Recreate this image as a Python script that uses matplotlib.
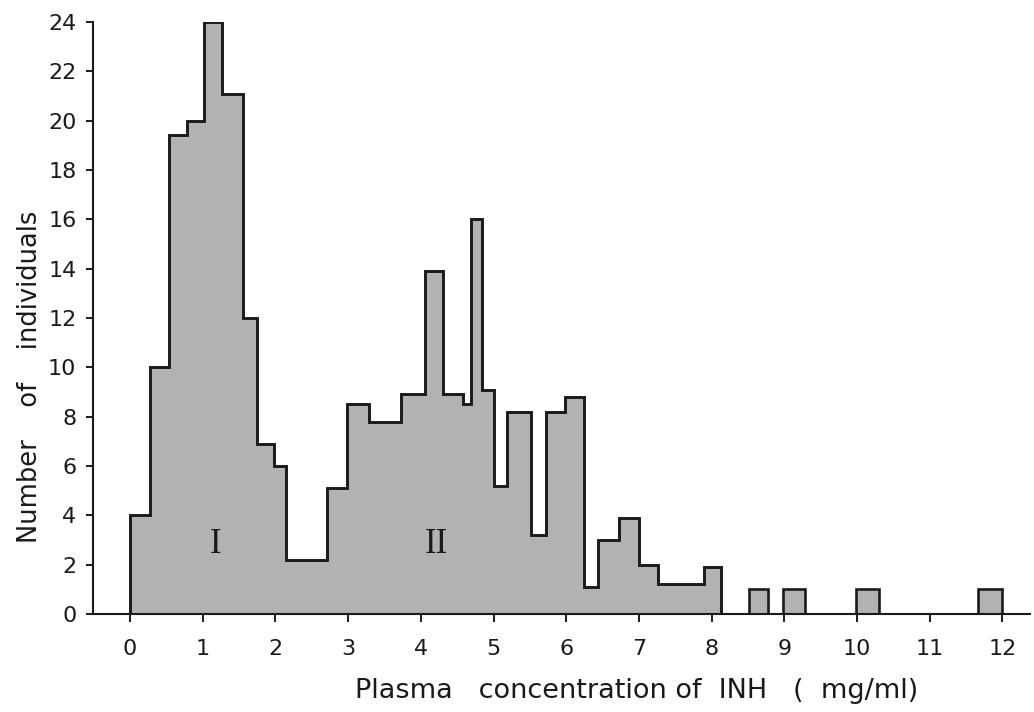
import matplotlib.pyplot as plt

# bin edges (mg/ml) and number of individuals
edges = [0, 0.28, 0.54, 0.79, 1.02, 1.27, 1.56, 1.75, 1.98, 2.15, 2.71,
         2.98, 3.29, 3.73, 4.06, 4.30, 4.58, 4.69, 4.84, 5.0, 5.18, 5.51,
         5.72, 5.99, 6.24, 6.44, 6.73, 7.0, 7.26, 7.9, 8.13]
counts = [4, 10, 19.4, 20, 24, 21.1, 12, 6.9, 6, 2.2,
          5.1, 8.5, 7.8, 8.9, 13.9, 8.9, 8.5, 16, 9.1, 5.2,
          8.2, 3.2, 8.2, 8.8, 1.1, 3.0, 3.9, 2.0, 1.2, 1.9]

# isolated bars in the tail
tail_left = [8.51, 8.98, 9.99, 11.66]
tail_right = [8.78, 9.28, 10.30, 11.99]
tail_counts = [1, 1, 1, 1]

x_ticks = list(range(0, 13))
y_ticks = list(range(0, 25, 2))

fill = "#b2b2b2"
ink = "#1a1a1a"

fig = plt.figure(figsize=(10.34, 7.12), dpi=100)
ax = fig.add_axes([93 / 1034, 1 - 614 / 712, (1030 - 93) / 1034, (614 - 22) / 712])

ax.stairs(counts, edges, fill=True, facecolor=fill, edgecolor="none")
ax.stairs(counts, edges, baseline=0, color=ink, lw=2.1)
widths = [r - l for l, r in zip(tail_left, tail_right)]
ax.bar(tail_left, tail_counts, width=widths, align="edge",
       color=fill, edgecolor=ink, lw=1.9)

ax.text(1.17, 2.8, "I", fontsize=25, family="Liberation Serif",
        ha="center", va="center", color=ink)
ax.text(4.21, 2.8, "II", fontsize=25, family="Liberation Serif",
        ha="center", va="center", color=ink)

ax.set_xlim(-0.51, 12.38)
ax.set_ylim(0, 24)
ax.set_xticks(x_ticks)
ax.set_yticks(y_ticks)
ax.spines["top"].set_visible(False)
ax.spines["right"].set_visible(False)
for s in ["left", "bottom"]:
    ax.spines[s].set_linewidth(1.5)
    ax.spines[s].set_color(ink)
ax.tick_params(axis="x", direction="out", length=6, width=1.4, pad=12,
               labelsize=16, colors=ink)
ax.tick_params(axis="y", direction="out", length=5, width=1.4, pad=7,
               labelsize=16, colors=ink)

fig.text(637 / 1034, 1 - 691 / 712, "Plasma   concentration of  INH   (  mg/ml)",
         fontsize=19.5, ha="center", va="center", color=ink)
fig.text(30 / 1034, 1 - 377 / 712, "Number    of    individuals",
         fontsize=18.5, rotation=90, ha="center", va="center", color=ink)

plt.savefig("out.png", dpi=100)
plt.close()
